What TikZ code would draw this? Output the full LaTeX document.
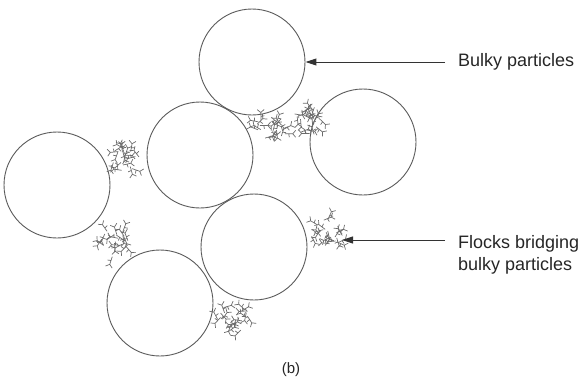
\documentclass[tikz,border=0pt]{standalone}
\usepackage{fontspec}
\setmainfont{Liberation Sans}
\usetikzlibrary{arrows.meta, positioning}
\definecolor{linegray}{RGB}{90, 90, 90}

\tikzset{
    particle/.style={draw=linegray, line width=0.9pt, circle, minimum size=106pt, inner sep=0pt},
    label text/.style={font=\fontsize{18}{22}\selectfont, text=black!85, align=left, inner sep=0pt},
    pointer/.style={draw=black!80, line width=1pt, -{Triangle[length=11pt, width=7pt]}},
    % a clump of short branched twigs
    pics/flock/.style={code={
        \foreach \k in {1,...,19}{
            \pgfmathsetmacro\fr{16*sqrt(rnd)}
            \pgfmathsetmacro\ft{360*rnd}
            \pgfmathsetmacro\fa{360*rnd}
            \draw[linegray!90, line width=0.7pt] (\ft:\fr) -- ++(\fa:4) coordinate (mid)
                -- ++(\fa:4) coordinate (tip)
                -- ++(\fa+50:4.5) (tip) -- ++(\fa-50:4.5)
                (mid) -- ++(\fa+80:3.5);
        }
    }}
}

\begin{document}
\begin{tikzpicture}[x=1pt, y=-1pt]
    \useasboundingbox (0,0) rectangle (582,383);
    \pgfmathsetseed{4242}

    % bulky particles
    \node[particle] (top)    at (252,62)  {};
    \node[particle] (middle) at (200,155) {};
    \node[particle] (left)   at (57,185)  {};
    \node[particle] (right)  at (363,142) {};
    \node[particle] (lower)  at (254,247) {};
    \node[particle] (bottom) at (160,303) {};

    % flocks between the particles
    \pic at (126,155) {flock};
    \pic at (270,130) {flock};
    \pic at (309,120) {flock};
    \pic at (112,242) {flock};
    \pic at (327,235) {flock};
    \pic at (233,317) {flock};
    \coordinate (flockR) at (342,240);

    % labels
    \node[label text, anchor=west] (bulky) at (458,62) {Bulky particles};
    \node[label text, anchor=north west] (flocks) at (458,235) {Flocks bridging\\bulky particles};
    \draw[pointer] ([xshift=-13pt]bulky.west) -- (top.east);
    \draw[pointer] ([xshift=-13pt]flocks.west |- flockR) -- (flockR);

    \node[label text, font=\fontsize{15}{18}\selectfont] (caption) at (291,370) {(b)};
\end{tikzpicture}
\end{document}
